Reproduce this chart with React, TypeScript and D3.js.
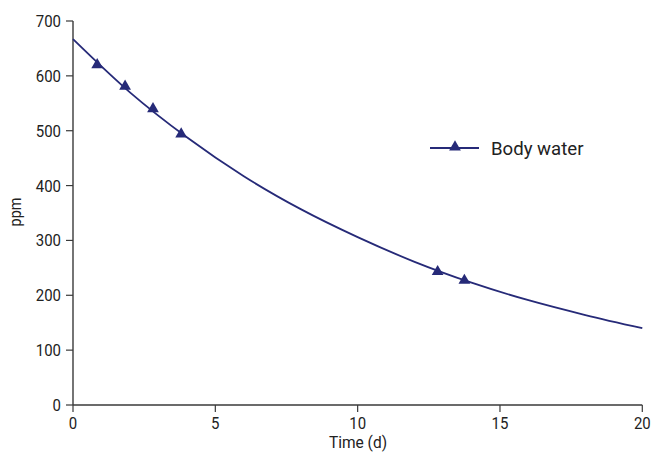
import React from "react";
import * as d3 from "d3";

const pointTimes = [0.85, 1.83, 2.81, 3.8, 12.81, 13.75];
const pointPpm = [620, 581, 540, 494, 243, 227];

const curveTimes = [0, 2, 4, 6, 8, 10, 12, 14, 16, 18, 20];
const curvePpm = [667, 570, 488, 417, 357, 306, 261, 223, 191, 164, 140];

const xTicks = [0, 5, 10, 15, 20];
const yTicks = [0, 100, 200, 300, 400, 500, 600, 700];

const seriesName = "Body water";
const xLabel = "Time (d)";
const yLabel = "ppm";

const W = 653;
const H = 453;
const LINE = "#262a78";
const AXIS = "#3a3a3a";
const TEXT = "#222";
const FONT = "Roboto, 'Noto Sans', sans-serif";

function CText({
  x,
  y,
  size,
  sx,
  anchor,
  rotate,
  dy,
  children,
}: {
  x: number;
  y: number;
  size: number;
  sx: number;
  anchor?: string;
  rotate?: number;
  dy?: string;
  children: React.ReactNode;
}) {
  return (
    <g transform={`translate(${x},${y})${rotate ? ` rotate(${rotate})` : ""} scale(${sx},1)`}>
      <text x={0} y={0} dy={dy} textAnchor={anchor || "start"} fontSize={size} fill={TEXT}>
        {children}
      </text>
    </g>
  );
}

export default function App() {
  const x = d3.scaleLinear().domain([0, 20]).range([73, 642.3]);
  const y = d3.scaleLinear().domain([0, 700]).range([405, 21]);

  const curveData = curveTimes.map((t, i) => [t, curvePpm[i]] as [number, number]);
  const lineGen = d3
    .line<[number, number]>()
    .x((d) => x(d[0]))
    .y((d) => y(d[1]))
    .curve(d3.curveMonotoneX);

  const tri = d3.symbol().type(d3.symbolTriangle).size(60)();

  return (
    <svg
      width={W}
      height={H}
      style={{ position: "absolute", left: 0, top: 0, background: "#fff" }}
      fontFamily={FONT}
    >
      <rect width={W} height={H} fill="#fff" />
      {/* axes */}
      <line x1={x(0)} x2={x(0)} y1={y(700)} y2={y(0)} stroke={AXIS} strokeWidth={1.4} />
      <line x1={x(0)} x2={x(20)} y1={y(0)} y2={y(0)} stroke={AXIS} strokeWidth={1.4} />
      {yTicks.map((t) => (
        <g key={"y" + t}>
          <line x1={x(0) - 7} x2={x(0)} y1={y(t)} y2={y(t)} stroke={AXIS} strokeWidth={1.2} />
          <CText x={x(0) - 12} y={y(t) + 6} size={17} sx={0.88} anchor="end">
            {t}
          </CText>
        </g>
      ))}
      {xTicks.map((t) => (
        <g key={"x" + t}>
          <line x1={x(t)} x2={x(t)} y1={y(0)} y2={y(0) + 7} stroke={AXIS} strokeWidth={1.2} />
          <CText x={x(t)} y={y(0) + 24} size={17} sx={0.88} anchor="middle">
            {t}
          </CText>
        </g>
      ))}
      <CText x={358} y={448} size={16} sx={0.97} anchor="middle">
        {xLabel}
      </CText>
      <CText x={21} y={212} size={16} sx={0.9} anchor="middle" rotate={-90}>
        {yLabel}
      </CText>
      {/* curve */}
      <path d={lineGen(curveData) || ""} fill="none" stroke={LINE} strokeWidth={1.8} />
      {pointTimes.map((t, i) => (
        <path key={"p" + i} d={tri || ""} transform={`translate(${x(t)},${y(pointPpm[i])})`} fill={LINE} />
      ))}
      {/* legend */}
      <line x1={430} x2={479} y1={148} y2={148} stroke={LINE} strokeWidth={1.8} />
      <path d={tri || ""} transform="translate(455,147)" fill={LINE} />
      <CText x={491} y={155} size={19} sx={0.98}>
        {seriesName}
      </CText>
    </svg>
  );
}
